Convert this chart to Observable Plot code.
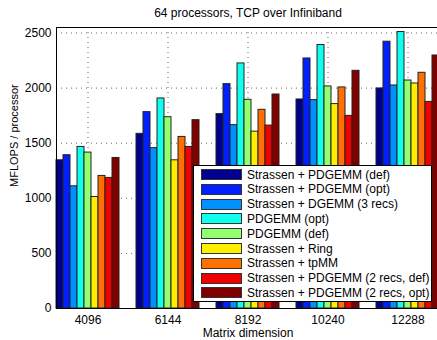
<!DOCTYPE html>
<html><head><meta charset="utf-8">
<script src="https://cdn.jsdelivr.net/npm/d3@7"></script>
<script src="https://cdn.jsdelivr.net/npm/@observablehq/plot@0.6"></script>
<style>
body{margin:0;background:#fff;overflow:hidden;font-family:"Liberation Sans",Arial,sans-serif;}
#wrap{position:relative;width:437px;height:340px;overflow:hidden;}
#legend{position:absolute;left:193px;top:165px;width:237px;height:135px;border:1px solid #000;background:#fff;}
.row{position:absolute;left:7px;height:11px;display:flex;align-items:center;font-size:12px;color:#000;white-space:nowrap;}
.sw{width:39px;height:9px;border:1px solid #333;margin-right:5px;flex:none;}
</style></head>
<body>
<div id="wrap"></div>
<script>
const title = "64 processors, TCP over Infiniband";
const xLabel = "Matrix dimension";
const yLabel = "MFLOPS / processor";
const dims = [4096, 6144, 8192, 10240, 12288];
const yTicks = [0, 500, 1000, 1500, 2000, 2500];
const series = [
  "Strassen + PDGEMM (def)",
  "Strassen + PDGEMM (opt)",
  "Strassen + DGEMM (3 recs)",
  "PDGEMM (opt)",
  "PDGEMM (def)",
  "Strassen + Ring",
  "Strassen + tpMM",
  "Strassen + PDGEMM (2 recs, def)",
  "Strassen + PDGEMM (2 recs, opt)"
];
const colors = ["#000090", "#0020ff", "#0090ff", "#10ffef", "#90ff70", "#ffee00", "#ff7000", "#f00000", "#800000"];

const strassenPdgemmDef = [1345, 1585, 1764, 1897, 1997];
const strassenPdgemmOpt = [1391, 1782, 2036, 2269, 2421];
const strassenDgemm3 = [1109, 1455, 1664, 1891, 2024];
const pdgemmOpt = [1466, 1906, 2224, 2391, 2509];
const pdgemmDef = [1415, 1736, 1894, 2015, 2069];
const strassenRing = [1012, 1345, 1605, 1855, 2042];
const strassenTpmm = [1203, 1557, 1803, 2006, 2139];
const strassen2Def = [1185, 1466, 1660, 1748, 1875];
const strassen2Opt = [1366, 1709, 1942, 2157, 2296];
const values = [strassenPdgemmDef, strassenPdgemmOpt, strassenDgemm3, pdgemmOpt, pdgemmDef, strassenRing, strassenTpmm, strassen2Def, strassen2Opt];

const rows = series.flatMap((s, i) => values[i].map((v, j) => ({dim: dims[j], series: s, i, value: v})));
const step = dims[1] - dims[0];
const barW = step * (63 / 80) / series.length;
const half = series.length / 2;

const chart = Plot.plot({
  width: 437, height: 340,
  marginLeft: 56, marginRight: -2, marginTop: 27, marginBottom: 32,
  style: {fontFamily: '"Liberation Sans", Arial, sans-serif', fontSize: "12px", background: "#fff", color: "#000"},
  x: {domain: [dims[0] - half * barW, dims[dims.length - 1] + half * barW], ticks: dims, tickFormat: d => String(d), tickSize: 0, tickPadding: 7, label: null},
  y: {domain: [0, 2550], ticks: yTicks, tickFormat: d => String(d), tickSize: 0, tickPadding: 5, label: null},
  color: {domain: series, range: colors},
  marks: [
    Plot.ruleX(dims, {stroke: "#666", strokeDasharray: "1,4"}),
    Plot.ruleY(yTicks.slice(1), {stroke: "#666", strokeDasharray: "1,4"}),
    Plot.rectY(rows, {x1: d => d.dim + (d.i - half) * barW, x2: d => d.dim + (d.i - half + 1) * barW, y: "value", fill: "series", stroke: "#222", strokeWidth: 1}),
    Plot.frame({stroke: "#000"}),
    Plot.text([title], {frameAnchor: "top", lineAnchor: "middle", dy: -14, fontSize: 12, fill: "#000"}),
    Plot.text([xLabel], {frameAnchor: "bottom", lineAnchor: "middle", dy: 25, fontSize: 12, fill: "#000"}),
    Plot.text([yLabel], {frameAnchor: "left", dx: -42, dy: 19, rotate: -90, fontSize: 11, fill: "#000"})
  ]
});
const wrap = document.getElementById("wrap");
wrap.appendChild(chart);

const legend = document.createElement("div");
legend.id = "legend";
series.forEach((s, i) => {
  const row = document.createElement("div");
  row.className = "row";
  row.style.top = (3 + i * 14.8) + "px";
  const sw = document.createElement("div");
  sw.className = "sw";
  sw.style.background = colors[i];
  const t = document.createElement("span");
  t.textContent = s;
  row.appendChild(sw); row.appendChild(t);
  legend.appendChild(row);
});
wrap.appendChild(legend);
</script>
</body></html>
